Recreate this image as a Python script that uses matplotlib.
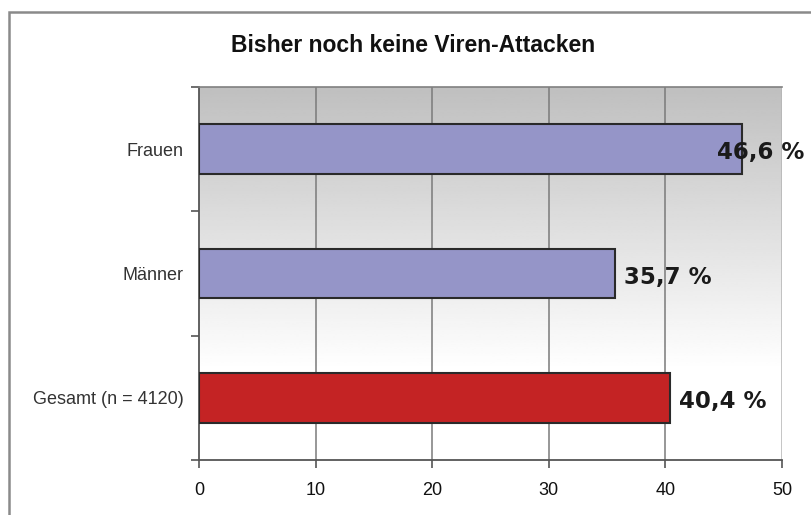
import numpy as np
import matplotlib
matplotlib.use('Agg')
import matplotlib.pyplot as plt
from matplotlib.patches import Rectangle

categories = ['Frauen', 'Männer', 'Gesamt (n = 4120)']
values = [46.6, 35.7, 40.4]
value_labels = ['46,6 %', '35,7 %', '40,4 %']
bar_colors = ['#9595c8', '#9595c8', '#c42324']
x_ticks = [0, 10, 20, 30, 40, 50]

sans = ['Liberation Sans', 'DejaVu Sans']

fig = plt.figure(figsize=(8.11, 5.15), dpi=100)
fig.patch.set_facecolor('white')

# outer frame of the chart area
fig.patches.append(Rectangle((9 / 811, -0.1), 1.2, 1.1 - 12 / 515,
                             transform=fig.transFigure, fill=False,
                             edgecolor='#8a8a8a', linewidth=1.8))

ax = fig.add_axes([199 / 811, 1 - 460 / 515, 583 / 811, 373 / 515])

# grey-to-white background gradient
grad = np.clip(np.linspace(0.75, 1.08, 200), 0, 1).reshape(-1, 1)
ax.imshow(grad, cmap='gray', vmin=0, vmax=1, aspect='auto', origin='upper',
          extent=(0, 50, 2.5, -0.5), zorder=0, interpolation='bilinear')

ypos = np.arange(len(categories))
ax.barh(ypos, values, height=0.4, color=bar_colors, edgecolor='#2a2a2a',
        linewidth=1.5, zorder=3)

for y, v, lab in zip(ypos, values, value_labels):
    ax.text(min(v + 0.75, 44.4), y + 0.03, lab, va='center', ha='left',
            fontsize=16.5, fontweight='bold', color='#1a1a1a',
            family='DejaVu Sans', zorder=4)

ax.set_xlim(0, 50)
ax.set_ylim(2.5, -0.5)
ax.set_xticks(x_ticks)
ax.set_xticklabels([str(t) for t in x_ticks], fontsize=13, family=sans,
                   color='#111111')
ax.set_yticks(ypos)
ax.set_yticklabels(categories, fontsize=13, family=sans, color='#333333')
ax.set_yticks(np.arange(-0.5, 3, 1.0), minor=True)
ax.tick_params(axis='y', which='major', length=0, pad=11)
ax.tick_params(axis='y', which='minor', length=6, width=1.2, color='#555555',
               direction='out')
ax.tick_params(axis='x', length=6, width=1.2, color='#555555', pad=10,
               direction='out')

for x in x_ticks[1:]:
    ax.axvline(x, color='#7a7a7a' if x < 50 else '#b5b5b5', linewidth=1.1,
               zorder=1)

for side in ['left', 'bottom']:
    ax.spines[side].set_color('#555555')
    ax.spines[side].set_linewidth(1.3)
ax.spines['top'].set_color('#808080')
ax.spines['top'].set_linewidth(1.2)
ax.spines['right'].set_visible(False)

fig.text(413 / 811, 1 - 45 / 515, 'Bisher noch keine Viren-Attacken',
         ha='center', va='center', fontsize=16.5, fontweight='bold',
         family=sans, color='#111111')

fig.savefig('out.png', dpi=100)
